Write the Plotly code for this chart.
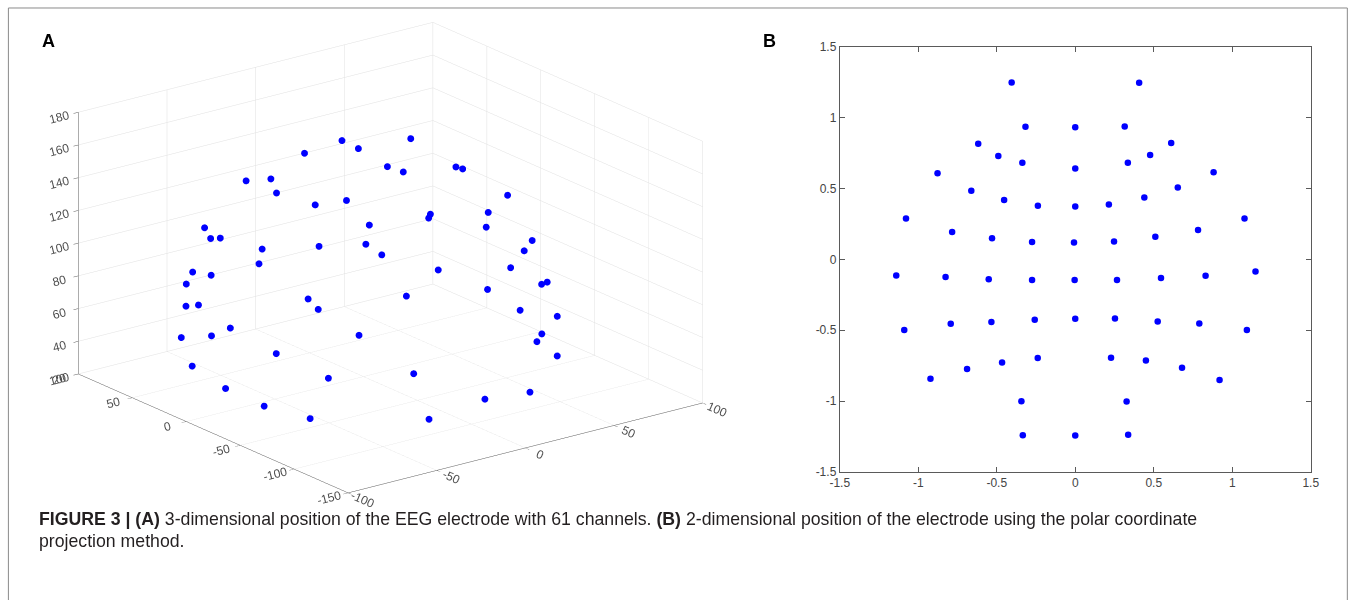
import plotly.graph_objects as go

# ---------------- Panel A : 3-D electrode positions (61 channels) ----------------
x3 = [-29.8, 26.4, -28.1, 0.9, 31.6, -51.5, 50.2, -54.0, 50.4, -49.7, 39.1, -5.0,
      -75.5, 72.9, -69.1, 68.0, -62.5, 52.7, -30.6, 2.1, 28.1, -81.9, 82.7, -79.7,
      76.8, -64.7, 58.6, -45.4, 4.3, 32.2, -84.8, -82.9, -69.6, -42.4, -3.8, 36.7,
      61.7, 77.2, 84.9, -80.0, -77.5, -63.1, -33.5, -3.3, 22.9, 42.7, 82.9, 81.6,
      -52.8, -30.7, 27.7, 55.8, -64.9, 62.2, -69.4, 64.9, -34.0, 36.3, -26.7, 1.0, 31.7]
y3 = [92.0, 94.8, 95.1, 95.5, 93.2, 80.0, 80.4, 75.6, 77.5, 65.7, 80.1, 77.7,
      44.9, 50.6, 44.9, 51.4, 39.1, 49.8, 58.6, 58.2, 51.0, 24.3, 21.0, 22.1,
      10.7, 26.5, 10.7, 6.1, 27.1, 9.2, -11.4, -12.7, -17.4, -24.8, -28.3, -31.5,
      -32.1, -29.4, -5.6, -39.3, -46.4, -61.6, -71.9, -67.3, -76.0, -78.7, -28.8, -31.1,
      -82.5, -90.1, -90.8, -78.5, -74.0, -77.3, -64.5, -72.8, -102.3, -101.0, -104.5, -110.8, -102.1]
z3 = [26.4, 32.7, 62.1, 70.0, 63.9, 54.0, 63.8, 69.5, 76.3, 105.6, 93.7, 119.7,
      51.6, 50.5, 89.9, 83.3, 110.3, 116.2, 131.1, 139.1, 136.9, 41.9, 44.5, 79.3,
      96.2, 114.8, 129.0, 143.0, 155.3, 154.0, 39.4, 76.2, 113.2, 143.9, 157.7, 146.1,
      123.3, 90.6, 38.9, 35.4, 68.9, 96.4, 124.6, 139.8, 127.2, 108.1, 62.1, 32.8,
      83.8, 103.9, 105.4, 85.3, 58.4, 62.3, 32.2, 36.0, 60.9, 60.8, 31.7, 38.2, 31.5]

# ---------------- Panel B : 2-D polar-coordinate projection ----------------
x2 = [-0.405, 0.407, -0.317, 0.0, 0.315, -0.618, 0.611, -0.49, 0.477, -0.337, 0.335, 0.0,
      -0.877, 0.881, -0.662, 0.653, -0.453, 0.44, -0.238, 0.0, 0.214, -1.078, 1.078, -0.784,
      0.782, -0.53, 0.51, -0.275, -0.008, 0.247, -1.14, -0.826, -0.551, -0.275, -0.004, 0.266,
      0.546, 0.83, 1.148, -1.089, -0.793, -0.534, -0.258, 0.0, 0.253, 0.525, 0.79, 1.093,
      -0.466, -0.239, 0.228, 0.45, -0.689, 0.68, -0.922, 0.919, -0.343, 0.327, -0.334, 0.0, 0.337]
y2 = [1.249, 1.247, 0.936, 0.933, 0.938, 0.816, 0.821, 0.73, 0.737, 0.683, 0.683, 0.641,
      0.608, 0.615, 0.484, 0.508, 0.419, 0.437, 0.379, 0.374, 0.388, 0.288, 0.288, 0.194,
      0.208, 0.15, 0.159, 0.122, 0.119, 0.126, -0.113, -0.125, -0.141, -0.146, -0.146, -0.146,
      -0.132, -0.115, -0.085, -0.498, -0.454, -0.442, -0.426, -0.419, -0.417, -0.438, -0.452, -0.498,
      -0.727, -0.696, -0.694, -0.713, -0.774, -0.765, -0.842, -0.851, -1.002, -1.004, -1.241, -1.244, -1.237]

# tick labels
x3_ticks = [-100, -50, 0, 50, 100]
y3_ticks = [-150, -100, -50, 0, 50, 100]
z3_ticks = [20, 40, 60, 80, 100, 120, 140, 160, 180]
b_ticks = [-1.5, -1, -0.5, 0, 0.5, 1, 1.5]
b_ticktext = ['-1.5', '-1', '-0.5', '0', '0.5', '1', '1.5']

W, H = 1357, 600
FONT = 'Liberation Sans, Arial, Helvetica, sans-serif'
tickfont = dict(family=FONT, size=12, color='#444444')
tickfont3 = dict(family=FONT, size=12, color='#505050')

# page-pixel -> paper helpers (screenshot maps the paper to a 1340.7 x 587.4 box at (8.6, 6.0))
def px(x):
    return (x - 8.6) / 1340.7

def py(y):
    return 1 - (y - 6.0) / 587.4

fig = go.Figure()
fig.add_trace(go.Scatter3d(
    x=x3, y=y3, z=z3, mode='markers',
    marker=dict(size=4, color='#0000ff', line=dict(width=0)),
    showlegend=False, hoverinfo='skip'))
fig.add_trace(go.Scatter(
    x=x2, y=y2, mode='markers',
    marker=dict(size=6.5, color='#0000ff'),
    showlegend=False, hoverinfo='skip'))

def ax3(rng, ticks):
    return dict(range=rng, tickmode='array', tickvals=ticks,
                ticktext=[str(t) for t in ticks], tickfont=tickfont3,
                showbackground=False, showgrid=True, gridcolor='#e0e0e0', gridwidth=1,
                showline=True, linecolor='#5a5a5a', linewidth=1,
                ticks='outside', ticklen=6, tickcolor='#5a5a5a',
                zeroline=False, showspikes=False, title=dict(text=''))

# scene placement: box centre must land at page pixel (389.5, 257.4)
cx = px(389.5)
dom_y = [0.10, 1.0]
half_px = 0.5 * (dom_y[1] - dom_y[0]) * 587.4          # px per scene unit (ortho)
Z = 1.9 * 234.96 / half_px                              # keep same on-screen scale
shift_units = ((py(257.4) - 0.5 * (dom_y[0] + dom_y[1])) * 587.4) / half_px
U = (0.2020, 0.2663, 0.9425)                            # screen-up direction
center = dict(x=-shift_units * U[0], y=-shift_units * U[1], z=-shift_units * U[2])

fig.update_layout(
    width=W, height=H, margin=dict(l=0, r=0, t=0, b=0),
    paper_bgcolor='white', plot_bgcolor='white',
    scene=dict(
        domain=dict(x=[cx - 0.27, cx + 0.27], y=dom_y),
        xaxis=ax3([-100, 100], x3_ticks),
        yaxis=ax3([-150, 100], y3_ticks),
        zaxis=ax3([20, 180], z3_ticks),
        aspectmode='manual', aspectratio=dict(x=1 * Z, y=1.003 * Z, z=0.624 * Z),
        camera=dict(eye=dict(x=center['x'] - 0.5696 * 1.5, y=center['y'] - 0.7509 * 1.5,
                             z=center['z'] + 0.3343 * 1.5),
                    up=dict(x=0, y=0, z=1), center=center,
                    projection=dict(type='orthographic')),
        bgcolor='rgba(0,0,0,0)'),
    xaxis=dict(domain=[px(840), px(1312)], range=[-1.5, 1.5], tickmode='array',
               tickvals=b_ticks, ticktext=b_ticktext, tickfont=tickfont,
               showline=True, linecolor='#5a5a5a', linewidth=1, mirror='ticks',
               ticks='inside', ticklen=5, tickcolor='#5a5a5a',
               showgrid=False, zeroline=False),
    yaxis=dict(domain=[py(472), py(46)], range=[-1.5, 1.5], tickmode='array',
               tickvals=b_ticks, ticktext=b_ticktext, tickfont=tickfont,
               showline=True, linecolor='#5a5a5a', linewidth=1, mirror='ticks',
               ticks='inside', ticklen=5, tickcolor='#5a5a5a',
               showgrid=False, zeroline=False),
)

# panel letters
fig.add_annotation(x=px(47), y=py(40), xref='paper', yref='paper', text='<b>A</b>',
                   showarrow=False, font=dict(family=FONT, size=18, color='black'),
                   xanchor='center', yanchor='middle')
fig.add_annotation(x=px(770), y=py(40), xref='paper', yref='paper', text='<b>B</b>',
                   showarrow=False, font=dict(family=FONT, size=18, color='black'),
                   xanchor='center', yanchor='middle')

# caption
cap1 = ('<b>FIGURE 3 | (A)</b> 3-dimensional position of the EEG electrode with 61 channels. '
        '<b>(B)</b> 2-dimensional position of the electrode using the polar coordinate')
cap2 = 'projection method.'
fig.add_annotation(x=px(36), y=py(519), xref='paper', yref='paper', text=cap1,
                   showarrow=False, font=dict(family=FONT, size=17.7, color='#231f20'),
                   xanchor='left', yanchor='middle')
fig.add_annotation(x=px(36), y=py(541), xref='paper', yref='paper', text=cap2,
                   showarrow=False, font=dict(family=FONT, size=17.7, color='#231f20'),
                   xanchor='left', yanchor='middle')

# outer frame
fig.add_shape(type='rect', xref='paper', yref='paper',
              x0=px(7), x1=0.9995, y0=-0.05, y1=py(7),
              line=dict(color='#8a8a8a', width=1), fillcolor='rgba(0,0,0,0)', layer='below')

fig.write_html('out.html', config={'displayModeBar': False},
               post_script="document.body.style.margin='0';document.body.style.overflow='hidden';")
